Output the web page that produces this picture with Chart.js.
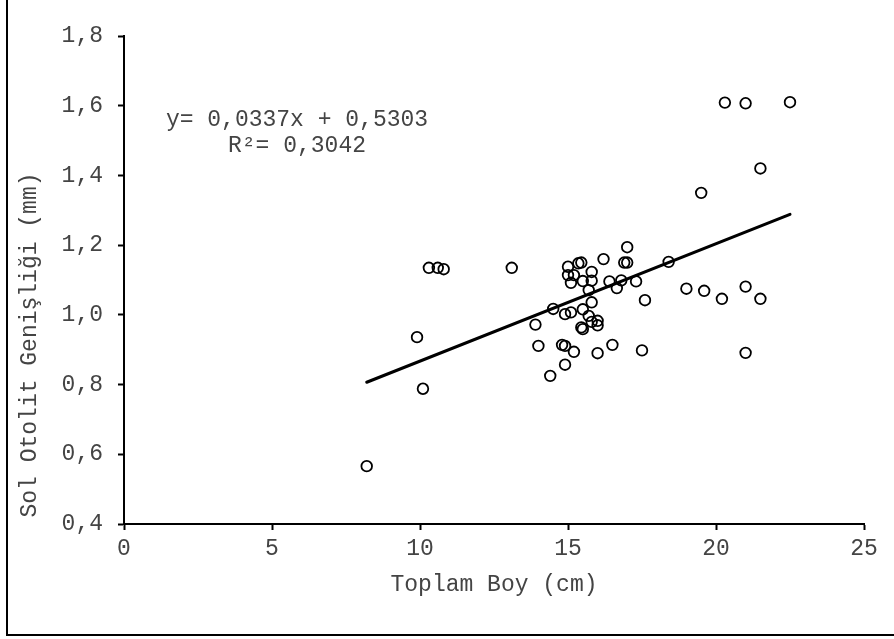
<!DOCTYPE html>
<html>
<head>
<meta charset="utf-8">
<title>Sol Otolit Genişliği - Toplam Boy</title>
<script src="https://cdn.jsdelivr.net/npm/chart.js@4.4.1/dist/chart.umd.min.js"></script>
<style>
  html, body { margin: 0; padding: 0; background: #fff; }
  #chart { display: block; }
</style>
</head>
<body>
<canvas id="chart" width="894" height="639"></canvas>
<script>
  'use strict';

  // Toplam boy (cm)
  const lengths = [
    8.2, 9.9, 10.1, 10.3, 10.6, 10.8, 13.1, 13.9, 14.0, 14.4,
    14.5, 14.8, 14.9, 14.9, 14.9, 15.0, 15.35, 15.45, 15.0, 15.2,
    15.1, 15.5, 15.8, 15.8, 15.7, 15.8, 15.1, 15.5, 15.7, 15.8,
    16.0, 16.0, 15.45, 15.5, 15.2, 16.0, 16.2, 16.4, 16.65, 16.5,
    16.8, 17.0, 16.9, 17.0, 17.3, 17.6, 17.5, 18.4, 19.0, 19.6,
    20.2, 21.0, 21.5, 21.0, 19.5, 21.5, 20.3, 21.0, 22.5
  ];

  // Sol otolit genişliği (mm)
  const widths = [
    0.566, 0.936, 0.788, 1.135, 1.135, 1.131, 1.135, 0.972, 0.911, 0.825,
    1.017, 0.914, 0.911, 0.857, 1.002, 1.138, 1.148, 1.150, 1.114, 1.114,
    1.092, 1.097, 1.123, 1.098, 1.071, 1.036, 1.007, 1.016, 0.997, 0.980,
    0.983, 0.970, 0.964, 0.959, 0.894, 0.890, 1.160, 1.096, 1.077, 0.914,
    1.099, 1.194, 1.150, 1.150, 1.096, 1.042, 0.898, 1.152, 1.075, 1.069,
    1.046, 1.081, 1.046, 0.891, 1.350, 1.420, 1.609, 1.607, 1.610
  ];

  // Trend line constants (y = slope * x + intercept)
  const slope = 0.0337;
  const intercept = 0.5303;
  const rSquared = 0.3042;

  const xTicks = [0, 5, 10, 15, 20, 25];
  const yTicks = [0.4, 0.6, 0.8, 1.0, 1.2, 1.4, 1.6, 1.8];

  const xTitle = 'Toplam Boy (cm)';
  const yTitle = 'Sol Otolit Genişliği (mm)';

  const FONT = '23px "Liberation Mono", "DejaVu Sans Mono", monospace';
  const TEXT_COLOR = '#444';

  const comma = (v, digits) => v.toFixed(digits).replace('.', ',');

  const points = lengths.map((x, i) => ({ x: x, y: widths[i] }));
  const xMin = Math.min(...lengths);
  const xMax = Math.max(...lengths);
  const trend = [
    { x: xMin, y: slope * xMin + intercept },
    { x: xMax, y: slope * xMax + intercept }
  ];

  // Frame, axis titles and equation text
  const decorations = {
    id: 'decorations',
    beforeDraw(chart) {
      const ctx = chart.ctx;
      ctx.save();
      ctx.strokeStyle = '#000';
      ctx.lineWidth = 2;
      ctx.strokeRect(7, -1, 900, 636);
      ctx.restore();
    },
    afterDraw(chart) {
      const ctx = chart.ctx;
      const area = chart.chartArea;
      ctx.save();
      ctx.font = FONT;
      ctx.fillStyle = TEXT_COLOR;
      ctx.textAlign = 'center';
      ctx.textBaseline = 'middle';

      ctx.fillText(xTitle, (area.left + area.right) / 2, 585);

      ctx.save();
      ctx.translate(30, 345);
      ctx.rotate(-Math.PI / 2);
      ctx.fillText(yTitle, 0, 0);
      ctx.restore();

      ctx.fillText('y= ' + comma(slope, 4) + 'x + ' + comma(intercept, 4), 297, 120);
      ctx.fillText('R²= ' + comma(rSquared, 4), 297, 146);
      ctx.restore();
    }
  };

  new Chart(document.getElementById('chart'), {
    type: 'scatter',
    data: {
      datasets: [
        {
          type: 'line',
          data: trend,
          borderColor: '#000',
          borderWidth: 3,
          borderCapStyle: 'round',
          pointRadius: 0,
          fill: false
        },
        {
          data: points,
          pointStyle: 'circle',
          pointRadius: 5.3,
          pointBorderWidth: 1.8,
          pointBorderColor: '#000',
          pointBackgroundColor: 'rgba(0,0,0,0)'
        }
      ]
    },
    options: {
      responsive: false,
      animation: false,
      events: [],
      layout: { padding: { left: 0, top: 36, right: 30, bottom: 0 } },
      plugins: {
        legend: { display: false },
        tooltip: { enabled: false }
      },
      scales: {
        x: {
          type: 'linear',
          min: 0,
          max: 25,
          afterBuildTicks: (scale) => { scale.ticks = xTicks.map(v => ({ value: v })); },
          afterFit: (scale) => { scale.height = 115; },
          border: { display: true, color: '#000', width: 2 },
          grid: { drawOnChartArea: false, color: '#000', tickLength: 6, tickWidth: 2 },
          ticks: {
            color: TEXT_COLOR,
            font: { family: '"Liberation Mono", monospace', size: 23 },
            padding: 5,
            maxRotation: 0,
            callback: (v) => String(v)
          }
        },
        y: {
          type: 'linear',
          min: 0.4,
          max: 1.8,
          afterBuildTicks: (scale) => { scale.ticks = yTicks.map(v => ({ value: v })); },
          afterFit: (scale) => { scale.width = 124; },
          border: { display: true, color: '#000', width: 2 },
          grid: { drawOnChartArea: false, color: '#000', tickLength: 6, tickWidth: 2 },
          ticks: {
            color: TEXT_COLOR,
            font: { family: '"Liberation Mono", monospace', size: 23 },
            padding: 15,
            callback: (v) => comma(v, 1)
          }
        }
      }
    },
    plugins: [decorations]
  });
</script>
</body>
</html>
